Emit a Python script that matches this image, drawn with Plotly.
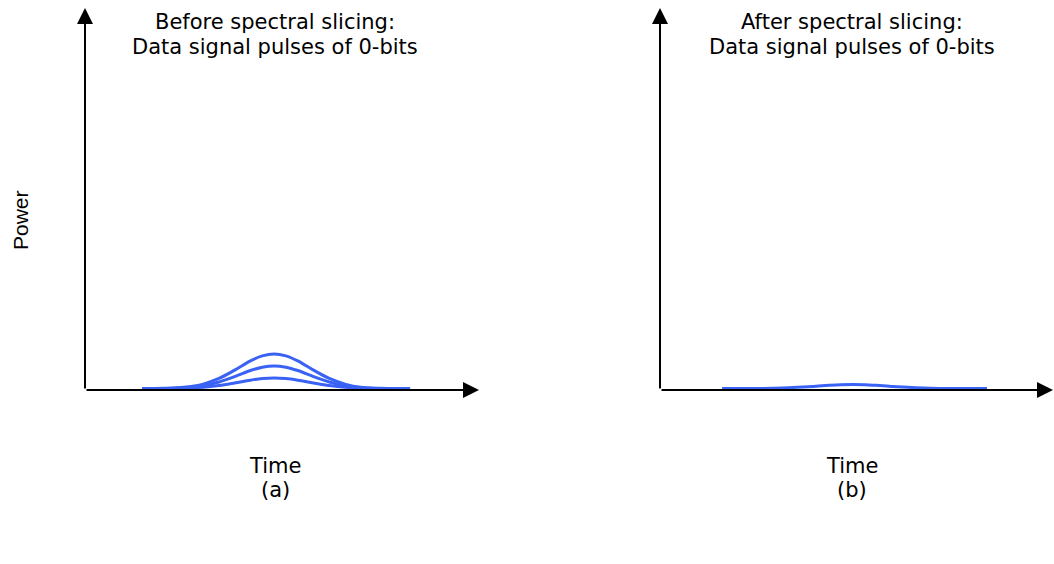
import plotly.graph_objects as go

W, H = 1054, 564

# ---- data ----
time_a = [1.45, 2.0, 2.5, 3.0, 3.4, 3.8, 4.2, 4.5, 4.8, 5.1, 5.4, 5.8, 6.2, 6.6, 7.0, 7.5, 8.0, 8.25]
pulse_high = [0.12, 0.14, 0.22, 0.49, 0.96, 1.65, 2.42, 2.84, 3.0, 2.84, 2.42, 1.65, 0.96, 0.49, 0.22, 0.14, 0.12, 0.12]
pulse_mid = [0.12, 0.13, 0.19, 0.36, 0.67, 1.12, 1.62, 1.90, 2.0, 1.90, 1.62, 1.12, 0.67, 0.36, 0.19, 0.13, 0.12, 0.12]
pulse_low = [0.12, 0.13, 0.15, 0.23, 0.38, 0.59, 0.82, 0.95, 1.0, 0.95, 0.82, 0.59, 0.38, 0.23, 0.15, 0.13, 0.12, 0.12]

time_b = [1.58, 2.1, 2.6, 3.1, 3.5, 3.9, 4.3, 4.6, 4.91, 5.2, 5.5, 5.9, 6.3, 6.7, 7.1, 7.6, 8.1, 8.32]
pulse_after = [0.12, 0.12, 0.13, 0.16, 0.22, 0.30, 0.39, 0.44, 0.46, 0.44, 0.39, 0.30, 0.22, 0.16, 0.13, 0.12, 0.12, 0.12]

title_line1 = ["Before spectral slicing:", "After spectral slicing:"]
title_line2 = ["Data signal pulses of 0-bits", "Data signal pulses of 0-bits"]
x_label = "Time"
y_label = "Power"
panel_labels = ["(a)", "(b)"]

X_MAX = 10.0
Y_MAX = 31.8

BLUE = "#3a62f4"

fig = go.Figure()
for p in (pulse_high, pulse_mid, pulse_low):
    fig.add_trace(go.Scatter(x=time_a, y=p, mode="lines", line=dict(color=BLUE, width=3, shape="spline"),
                             xaxis="x", yaxis="y", showlegend=False, hoverinfo="skip"))
fig.add_trace(go.Scatter(x=time_b, y=pulse_after, mode="lines", line=dict(color=BLUE, width=3, shape="spline"),
                         xaxis="x2", yaxis="y2", showlegend=False, hoverinfo="skip"))

def px(v):
    return v / W

def py(v):
    return 1 - v / H

ydom = [py(390), py(8)]
ax_common = dict(visible=False, showgrid=False, zeroline=False, fixedrange=True)
fig.update_layout(
    width=W, height=H,
    margin=dict(l=0, r=0, t=0, b=0),
    paper_bgcolor="white", plot_bgcolor="white",
    xaxis=dict(domain=[px(85), px(479)], range=[0, X_MAX], anchor="y", **ax_common),
    yaxis=dict(domain=ydom, range=[0, Y_MAX], anchor="x", **ax_common),
    xaxis2=dict(domain=[px(660), px(1053)], range=[0, X_MAX], anchor="y2", **ax_common),
    yaxis2=dict(domain=ydom, range=[0, Y_MAX], anchor="x2", **ax_common),
)

annotations = []
for xr, yr in (("x", "y"), ("x2", "y2")):
    annotations.append(dict(x=X_MAX, y=0, ax=0, ay=0, xref=xr, yref=yr, axref=xr, ayref=yr,
                            text="", showarrow=True, arrowhead=2, arrowsize=1.6, arrowwidth=2,
                            arrowcolor="black", standoff=0, startstandoff=0))
    annotations.append(dict(x=0, y=Y_MAX, ax=0, ay=0, xref=xr, yref=yr, axref=xr, ayref=yr,
                            text="", showarrow=True, arrowhead=2, arrowsize=1.6, arrowwidth=2,
                            arrowcolor="black", standoff=0, startstandoff=0))

font_main = dict(family="DejaVu Sans", size=21, color="black")
centers = [275, 852]
for cx, t1, t2, lab in zip(centers, title_line1, title_line2, panel_labels):
    for txt, yy in ((t1, 22), (t2, 47), (x_label, 466), (lab, 490)):
        annotations.append(dict(x=px(cx), y=py(yy), xref="paper", yref="paper", text=txt, showarrow=False,
                                font=font_main, xanchor="center", yanchor="middle"))

annotations.append(dict(x=px(20), y=py(220), xref="paper", yref="paper", text=y_label, showarrow=False,
                        textangle=-90, font=dict(family="Liberation Sans", size=21, color="black"),
                        xanchor="center", yanchor="middle"))

fig.update_layout(annotations=annotations)
fig.write_html("out.html")
